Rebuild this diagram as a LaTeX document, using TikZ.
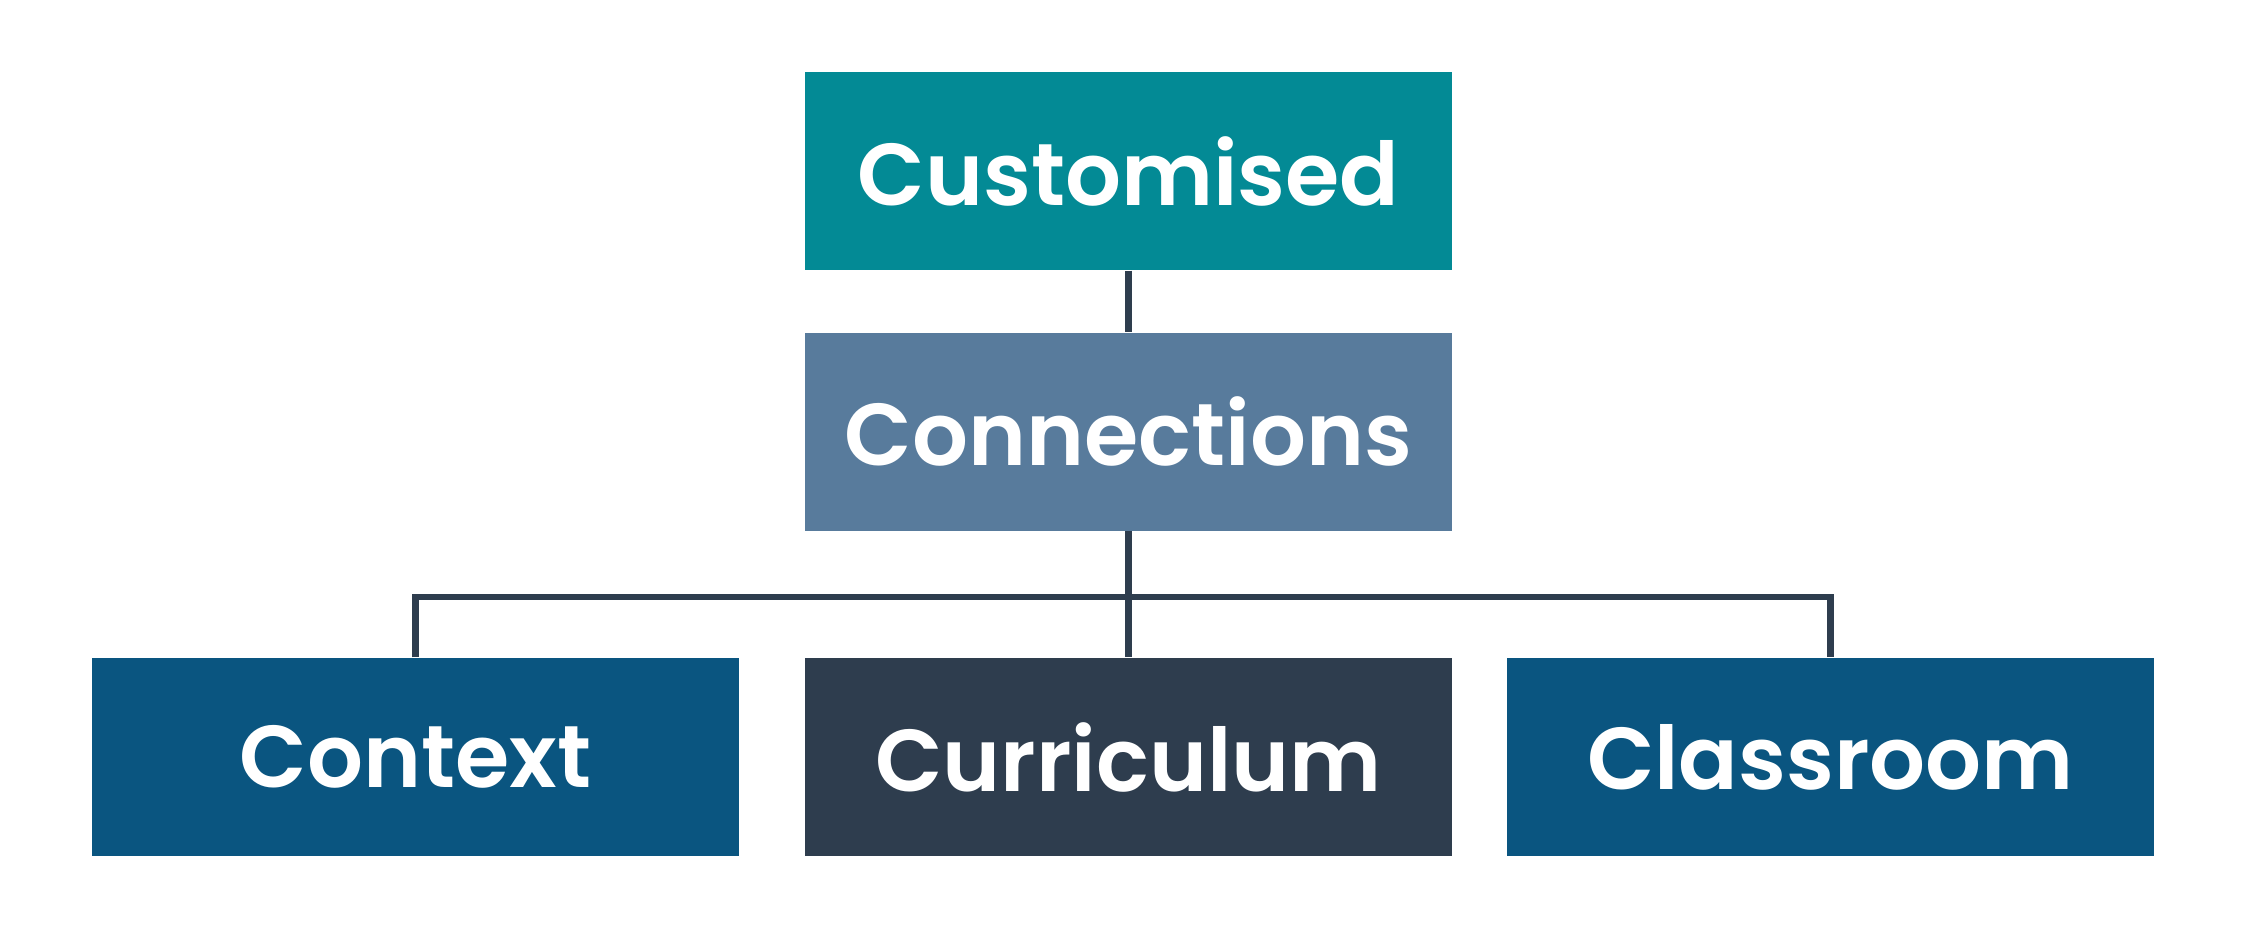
\documentclass[tikz,border=0pt]{standalone}
\usepackage{fontspec}
\newfontfamily\boxfont{Poppins SemiBold}
\definecolor{teal1}{HTML}{038A95}
\definecolor{steel}{HTML}{587B9C}
\definecolor{navy}{HTML}{0A5580}
\definecolor{slate}{HTML}{2E3D4E}

\begin{document}
\begin{tikzpicture}
  [x=0.1mm,y=-0.1mm,
   every node/.style={rectangle,minimum width=64.7mm,minimum height=19.8mm,
     inner sep=0pt,text=white,font=\boxfont\fontsize{25}{30}\selectfont},
   link/.style={draw=slate,line width=0.65mm}]
  \useasboundingbox (0,0) rectangle (2255,931);
  \node[fill=teal1] (cust) at (1128.5,171)   {Customised};
  \node[fill=steel] (conn) at (1128.5,431.5) {Connections};
  \node[fill=navy]  (cont) at (415.5,757)    {Context};
  \node[fill=slate] (curr) at (1128.5,757)   {Curriculum};
  \node[fill=navy]  (clas) at (1830.5,757)   {Classroom};
  \coordinate (bar) at (1128.5,597);
  \foreach \from/\to in {cust/conn,conn/curr}
    \draw[link] (\from) -- (\to);
  \draw[link] (cont.north) |- (bar) -| (clas.north);
\end{tikzpicture}
\end{document}
